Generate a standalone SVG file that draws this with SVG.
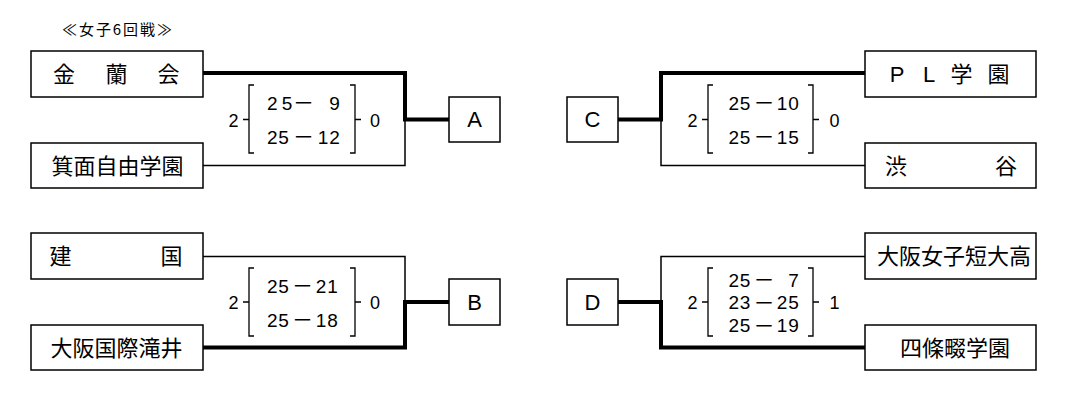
<svg xmlns="http://www.w3.org/2000/svg" width="1067" height="402" viewBox="0 0 1067 402">
<style>
.box{fill:#fff;stroke:#000;stroke-width:1.5}
.thin{fill:none;stroke:#000;stroke-width:1.5}
.thick{fill:none;stroke:#000;stroke-width:4;stroke-linejoin:miter}
.br{fill:none;stroke:#000;stroke-width:1.3}
.jp{font-family:"Noto Sans CJK JP",sans-serif;font-size:22px;fill:#000}
.lat{font-family:"Liberation Sans","Noto Sans CJK JP",sans-serif;font-size:22px;fill:#000}
.num{font-family:"Liberation Sans","Noto Sans CJK JP",sans-serif;font-size:19px;fill:#000;letter-spacing:0.8px}
.side{font-family:"Liberation Sans",sans-serif;font-size:18px;fill:#000;text-anchor:middle}
.letter{font-family:"Liberation Sans",sans-serif;font-size:22px;fill:#000;text-anchor:middle}
.title{font-family:"Noto Sans CJK JP",sans-serif;font-size:15px;fill:#000}
.m{text-anchor:middle}
.e{text-anchor:end}
.d{font-size:21px;text-anchor:middle;letter-spacing:0}
</style>
<rect width="1067" height="402" fill="#fff"/>
<text class="title" x="62" y="34.6" textLength="110" lengthAdjust="spacing">≪女子6回戦≫</text>

<g id="connectors">
  <path class="thick" d="M203,73 H405 V119.5 H449"/>
  <path class="thin" d="M203,165.5 H405 V119.5"/>
  <path class="thin" d="M203,256.5 H405 V302"/>
  <path class="thick" d="M203,347.5 H405 V302 H449"/>
  <path class="thick" d="M618,119.5 H661 V73 H865"/>
  <path class="thin" d="M661,119.5 V165.5 H865"/>
  <path class="thin" d="M661,302 V256.5 H865"/>
  <path class="thick" d="M618,302 H661 V347.5 H865"/>
</g>

<g id="kinrankai">
  <rect class="box" x="31" y="51" width="172" height="46"/>
  <text class="jp m" x="64" y="82.4">金</text>
  <text class="jp m" x="116.5" y="82.4">蘭</text>
  <text class="jp m" x="168.5" y="82.4">会</text>
</g>
<g id="minoo">
  <rect class="box" x="31" y="143" width="172" height="45"/>
  <text class="jp m" x="117.5" y="173.9">箕面自由学園</text>
</g>
<g id="kenkoku">
  <rect class="box" x="31" y="233" width="172" height="46"/>
  <text class="jp m" x="60.5" y="264.4">建</text>
  <text class="jp m" x="171.5" y="264.4">国</text>
</g>
<g id="osaka-kokusai">
  <rect class="box" x="31" y="325" width="172" height="45"/>
  <text class="jp m" x="116.5" y="355.9">大阪国際滝井</text>
</g>
<g id="pl">
  <rect class="box" x="865" y="51" width="171" height="46"/>
  <text class="lat m" x="897" y="82">P</text>
  <text class="lat m" x="929" y="82">L</text>
  <text class="jp m" x="961.5" y="82.4">学</text>
  <text class="jp m" x="998.5" y="82.4">園</text>
</g>
<g id="shibuya">
  <rect class="box" x="865" y="143" width="171" height="45"/>
  <text class="jp m" x="896" y="173.9">渋</text>
  <text class="jp m" x="1006" y="173.9">谷</text>
</g>
<g id="osaka-joshi">
  <rect class="box" x="865" y="233" width="171" height="46"/>
  <text class="jp m" x="954" y="264.4">大阪女子短大高</text>
</g>
<g id="shijonawate">
  <rect class="box" x="865" y="325" width="171" height="45"/>
  <text class="jp m" x="955" y="355.9">四條畷学園</text>
</g>

<g id="A">
  <rect class="box" x="449" y="97" width="51" height="45"/>
  <text class="letter" x="474.5" y="127.4">A</text>
</g>
<g id="B">
  <rect class="box" x="449" y="279" width="51" height="46"/>
  <text class="letter" x="474.5" y="309.9">B</text>
</g>
<g id="C">
  <rect class="box" x="567" y="97" width="51" height="45"/>
  <text class="letter" x="592.5" y="127.4">C</text>
</g>
<g id="D">
  <rect class="box" x="567" y="279" width="51" height="46"/>
  <text class="letter" x="592.5" y="309.9">D</text>
</g>

<g id="score-A">
  <text class="side" x="233.5" y="126.5">2</text>
  <path class="br" d="M254,85 H249 V153 H254 M243,119.5 H249"/>
  <text class="num" y="109.6"><tspan x="267" textLength="26" lengthAdjust="spacing">25</tspan><tspan class="d" x="303.5" dy="0.8">－</tspan><tspan class="e" x="340.5" dy="-0.8">9</tspan></text>
  <text class="num" y="143.6"><tspan x="267">25</tspan><tspan class="d" x="303.5" dy="0.8">－</tspan><tspan class="e" x="340.5" dy="-0.8">12</tspan></text>
  <path class="br" d="M350,85 H355 V153 H350 M355,119.5 H361"/>
  <text class="side" x="375" y="126.5">0</text>
</g>
<g id="score-B">
  <text class="side" x="233.5" y="308.5">2</text>
  <path class="br" d="M254,268 H249 V336 H254 M243,302 H249"/>
  <text class="num" y="292.6"><tspan x="267">25</tspan><tspan class="d" x="302.5" dy="0.8">－</tspan><tspan class="e" x="338.5" dy="-0.8">21</tspan></text>
  <text class="num" y="326.6"><tspan x="267">25</tspan><tspan class="d" x="302.5" dy="0.8">－</tspan><tspan class="e" x="338.5" dy="-0.8">18</tspan></text>
  <path class="br" d="M350,268 H355 V336 H350 M355,302 H361"/>
  <text class="side" x="375" y="308.5">0</text>
</g>
<g id="score-C">
  <text class="side" x="692.5" y="126.5">2</text>
  <path class="br" d="M713,85 H708 V153 H713 M702,119.5 H708"/>
  <text class="num" y="109.6"><tspan x="728.5">25</tspan><tspan class="d" x="764" dy="0.8">－</tspan><tspan class="e" x="799.5" dy="-0.8">10</tspan></text>
  <text class="num" y="143.6"><tspan x="728.5">25</tspan><tspan class="d" x="764" dy="0.8">－</tspan><tspan class="e" x="799.5" dy="-0.8">15</tspan></text>
  <path class="br" d="M808,85 H813 V153 H808 M813,119.5 H819"/>
  <text class="side" x="834.5" y="126.5">0</text>
</g>
<g id="score-D">
  <text class="side" x="692.5" y="308.5">2</text>
  <path class="br" d="M713,268 H708 V336 H713 M702,302 H708"/>
  <text class="num" y="286.6"><tspan x="728.5">25</tspan><tspan class="d" x="764" dy="0.8">－</tspan><tspan class="e" x="799.5" dy="-0.8">7</tspan></text>
  <text class="num" y="309.2"><tspan x="728.5">23</tspan><tspan class="d" x="764" dy="0.8">－</tspan><tspan class="e" x="799.5" dy="-0.8">25</tspan></text>
  <text class="num" y="332.2"><tspan x="728.5">25</tspan><tspan class="d" x="764" dy="0.8">－</tspan><tspan class="e" x="799.5" dy="-0.8">19</tspan></text>
  <path class="br" d="M808,268 H813 V336 H808 M813,302 H819"/>
  <text class="side" x="834.5" y="308.5">1</text>
</g>
</svg>
